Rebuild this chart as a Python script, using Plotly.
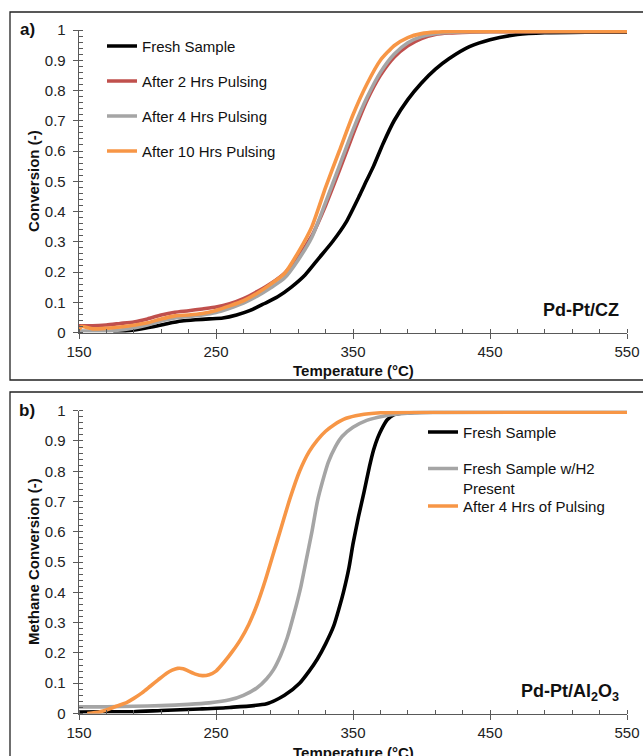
import plotly.graph_objects as go

W, H = 643, 756
FONT = "Arial, 'Liberation Sans', sans-serif"

# ---------------- Panel a: Pd-Pt/CZ ----------------
a_fresh_T = [175, 185, 195, 205, 215, 225, 235, 245, 255, 265, 275, 285, 295, 305, 315, 325, 335, 345, 355, 360, 365, 372, 380, 390, 400, 410, 420, 435, 450, 470, 490, 520, 550]
a_fresh_C = [0.0, 0.005, 0.012, 0.02, 0.03, 0.038, 0.042, 0.045, 0.048, 0.058, 0.073, 0.095, 0.118, 0.15, 0.19, 0.245, 0.30, 0.365, 0.455, 0.503, 0.55, 0.625, 0.70, 0.77, 0.825, 0.87, 0.905, 0.945, 0.968, 0.985, 0.991, 0.993, 0.993]

a_2h_T = [150, 160, 170, 180, 190, 200, 210, 220, 230, 240, 250, 260, 270, 280, 290, 300, 310, 320, 330, 340, 350, 360, 370, 380, 390, 400, 410, 420, 435, 450, 500, 550]
a_2h_C = [0.022, 0.022, 0.025, 0.03, 0.035, 0.045, 0.058, 0.067, 0.072, 0.078, 0.084, 0.095, 0.112, 0.135, 0.162, 0.196, 0.25, 0.32, 0.42, 0.535, 0.655, 0.765, 0.85, 0.91, 0.948, 0.972, 0.985, 0.99, 0.993, 0.994, 0.995, 0.995]

a_4h_T = [150, 175, 190, 200, 210, 220, 230, 240, 250, 260, 270, 280, 290, 300, 310, 320, 330, 340, 350, 360, 370, 380, 390, 400, 410, 420, 435, 450, 500, 550]
a_4h_C = [0.005, 0.006, 0.015, 0.025, 0.038, 0.048, 0.053, 0.058, 0.066, 0.08, 0.097, 0.12, 0.148, 0.18, 0.24, 0.315, 0.43, 0.55, 0.67, 0.775, 0.86, 0.92, 0.958, 0.978, 0.988, 0.992, 0.994, 0.995, 0.995, 0.995]

a_10h_T = [150, 152, 160, 170, 180, 190, 200, 210, 220, 230, 240, 250, 260, 270, 280, 290, 300, 310, 320, 330, 340, 350, 360, 370, 380, 390, 400, 410, 425, 450, 500, 550]
a_10h_C = [0.01, 0.02, 0.012, 0.014, 0.018, 0.024, 0.032, 0.045, 0.055, 0.058, 0.063, 0.073, 0.088, 0.105, 0.13, 0.16, 0.195, 0.265, 0.35, 0.48, 0.60, 0.72, 0.82, 0.90, 0.948, 0.975, 0.988, 0.993, 0.995, 0.995, 0.995, 0.995]

# ---------------- Panel b: Pd-Pt/Al2O3 ----------------
b_fresh_T = [150, 170, 190, 210, 238, 260, 287, 300, 311, 318, 324, 330, 336, 340, 343, 347, 350, 354, 358, 362, 365, 368, 371, 375, 380, 385, 395, 420, 550]
b_fresh_C = [0.005, 0.006, 0.006, 0.01, 0.015, 0.02, 0.032, 0.06, 0.10, 0.14, 0.18, 0.23, 0.29, 0.35, 0.40, 0.48, 0.56, 0.65, 0.73, 0.815, 0.87, 0.91, 0.94, 0.97, 0.987, 0.992, 0.994, 0.995, 0.995]

b_h2_T = [150, 170, 190, 210, 230, 245, 260, 270, 280, 287, 292, 297, 302, 307, 312, 316, 320, 324, 328, 332, 337, 342, 350, 360, 372, 385, 400, 550]
b_h2_C = [0.022, 0.022, 0.024, 0.026, 0.03, 0.035, 0.045, 0.06, 0.085, 0.115, 0.145, 0.19, 0.25, 0.33, 0.42, 0.51, 0.6, 0.7, 0.77, 0.83, 0.88, 0.915, 0.945, 0.968, 0.982, 0.99, 0.994, 0.995]

b_4h_T = [156, 165, 172, 178, 185, 190, 196, 202, 208, 214, 218, 222, 226, 230, 235, 240, 245, 250, 256, 262, 268, 274, 280, 286, 292, 298, 304, 311, 318, 324, 330, 336, 345, 355, 370, 390, 550]
b_4h_C = [0.0, 0.005, 0.015, 0.025, 0.037, 0.05, 0.068, 0.09, 0.112, 0.133, 0.143, 0.149, 0.148, 0.14, 0.13, 0.125, 0.128, 0.14, 0.17, 0.205, 0.245, 0.295, 0.36, 0.44, 0.53, 0.62, 0.71, 0.8, 0.865, 0.903, 0.932, 0.953, 0.975, 0.986, 0.993, 0.995, 0.995]

x_ticks = [150, 250, 350, 450, 550]
y_ticks = [0, 0.1, 0.2, 0.3, 0.4, 0.5, 0.6, 0.7, 0.8, 0.9, 1]

BLACK = "#000000"
RED = "#C0504D"
GREY = "#A5A5A5"
ORANGE = "#F79646"


def px(x):
    return x / W


def py(y):
    return 1 - y / H


fig = go.Figure()

LW = 3.6

def add(T, C, name, color, xa, ya, legend):
    fig.add_trace(go.Scatter(
        x=T, y=C, mode="lines", name=name,
        line=dict(color=color, width=LW, shape="spline", smoothing=0.6),
        xaxis=xa, yaxis=ya, legend=legend, legendgroup=name + legend,
        hoverinfo="x+y+name",
    ))

add(a_fresh_T, a_fresh_C, "Fresh Sample", BLACK, "x", "y", "legend")
add(a_2h_T, a_2h_C, "After 2 Hrs Pulsing", RED, "x", "y", "legend")
add(a_4h_T, a_4h_C, "After 4 Hrs Pulsing", GREY, "x", "y", "legend")
add(a_10h_T, a_10h_C, "After 10 Hrs Pulsing", ORANGE, "x", "y", "legend")

add(b_fresh_T, b_fresh_C, "Fresh Sample", BLACK, "x2", "y2", "legend2")
add(b_h2_T, b_h2_C, "Fresh Sample w/H2<br>Present", GREY, "x2", "y2", "legend3")
add(b_4h_T, b_4h_C, "After 4 Hrs of Pulsing", ORANGE, "x2", "y2", "legend4")

XDOM = [px(79), px(627)]
A_DOM = [py(332.5), py(30)]
B_DOM = [py(713.5), py(410.7)]
AXC = "#595959"
TICKFONT = dict(family=FONT, size=15, color="#222222")

xcommon = dict(range=[150, 550], tickvals=x_ticks, ticks="outside", ticklen=5,
               tickcolor=AXC, showline=True, linecolor=AXC, linewidth=1.3,
               showgrid=False, zeroline=False, tickfont=TICKFONT, automargin=False,
               minor=dict(dtick=20, tick0=150, ticks="inside", ticklen=4, tickcolor=AXC, showgrid=False),
               domain=XDOM)
ycommon = dict(range=[0, 1], tickvals=y_ticks, ticks="outside", ticklen=5,
               tickcolor=AXC, showline=True, linecolor=AXC, linewidth=1.3,
               showgrid=False, zeroline=False, tickfont=TICKFONT, automargin=False,
               minor=dict(dtick=0.02, tick0=0, ticks="inside", ticklen=4, tickcolor=AXC, showgrid=False),
               ticklabelstandoff=4)

def overlay_x(over, anchor):
    return dict(range=[150, 550], tickvals=x_ticks, ticks="inside", ticklen=5, tickcolor=AXC,
                showticklabels=False, showline=False, showgrid=False, zeroline=False,
                automargin=False, overlaying=over, anchor=anchor, domain=XDOM)

def overlay_y(over, anchor):
    return dict(range=[0, 1], tickvals=y_ticks, ticks="inside", ticklen=5, tickcolor=AXC,
                showticklabels=False, showline=False, showgrid=False, zeroline=False,
                automargin=False, overlaying=over, anchor=anchor)

LEGFONT = dict(family=FONT, size=15, color="#111111")

def leg(x, y, gap=0):
    return dict(x=px(x), y=py(y), xanchor="left", yanchor="top", bgcolor="rgba(0,0,0,0)",
                font=LEGFONT, tracegroupgap=gap, itemwidth=30, valign="top")

fig.update_layout(
    width=W, height=H,
    margin=dict(l=0, r=0, t=0, b=0, autoexpand=False),
    paper_bgcolor="white", plot_bgcolor="white",
    showlegend=True,
    font=dict(family=FONT, size=15, color="#111111"),
    xaxis=dict(**xcommon, anchor="y"),
    yaxis=dict(**ycommon, domain=A_DOM, anchor="x"),
    xaxis2=dict(**xcommon, anchor="y2"),
    yaxis2=dict(**ycommon, domain=B_DOM, anchor="x2"),
    # overlay axes draw the inner half of the major ticks (crossing ticks)
    xaxis3=overlay_x("x", "y"),
    yaxis3=overlay_y("y", "x"),
    xaxis4=overlay_x("x2", "y2"),
    yaxis4=overlay_y("y2", "x2"),
    legend=leg(102, 29.7, gap=12.5),
    legend2=leg(423, 415.7),
    legend3=leg(423, 452.3),
    legend4=leg(423, 489.7),
)

ann = []
def text(x, y, s, size=15, angle=0):
    ann.append(dict(x=px(x), y=py(y), xref="paper", yref="paper", text=s,
                    showarrow=False, textangle=angle, xanchor="center", yanchor="middle",
                    font=dict(family=FONT, size=size, color="#111111")))

text(353, 371, "<b>Temperature (°C)</b>")
text(353, 752, "<b>Temperature (°C)</b>")
text(33, 181, "<b>Conversion (-)</b>", angle=-90)
text(33, 562, "<b>Methane Conversion (-)</b>", angle=-90)
text(27, 30, "<b>a)</b>", size=17)
text(27, 410, "<b>b)</b>", size=17)
text(581, 310, "<b>Pd-Pt/CZ</b>", size=18)
text(570, 692, "<b>Pd-Pt/Al<sub>2</sub>O<sub>3</sub></b>", size=18)
fig.update_layout(annotations=ann)

# panel frames
fig.add_shape(type="rect", xref="paper", yref="paper", x0=px(10), x1=px(660), y0=py(380), y1=py(12),
              line=dict(color="#222222", width=1.3), fillcolor="rgba(0,0,0,0)", layer="below")
fig.add_shape(type="rect", xref="paper", yref="paper", x0=px(10), x1=px(660), y0=py(780), y1=py(392),
              line=dict(color="#222222", width=1.3), fillcolor="rgba(0,0,0,0)", layer="below")

fig.write_html("out.html", config={"displayModeBar": False, "staticPlot": True},
               post_script="document.body.style.margin='0';document.body.style.overflow='hidden';")
